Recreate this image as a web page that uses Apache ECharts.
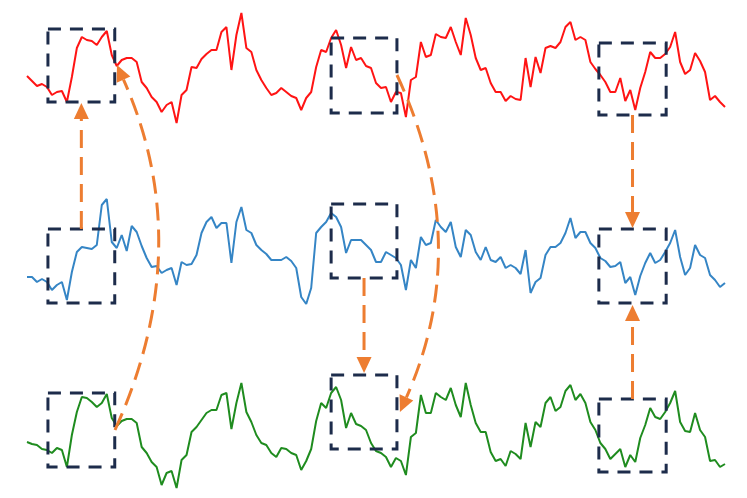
<!DOCTYPE html>
<html><head><meta charset="utf-8">
<script src="https://cdn.jsdelivr.net/npm/echarts@6/dist/echarts.min.js"></script>
<style>html,body{margin:0;padding:0;background:#fff}#c{width:747px;height:498px}</style>
</head><body><div id="c"></div>
<script>
const redValues = [54,49,44,46,43,35,38,39,28,53,82,93,90,89,85,93,99,75,64,70,72,72,68,48,42,33,28,18,25,28,7,35,40,63,62,71,76,80,80,98,103,60,95,117,82,78,60,50,42,35,37,42,38,34,32,20,32,38,63,80,78,92,100,85,62,83,70,72,64,62,47,42,43,28,38,37,13,50,53,88,73,75,96,93,92,103,88,75,112,95,72,60,62,47,38,38,29,34,31,30,72,43,73,57,82,84,82,88,103,108,90,93,90,68,61,55,48,38,38,52,29,40,20,42,58,78,72,72,76,83,98,68,56,60,77,69,58,30,34,28,23];
const blueValues = [38,38,33,36,33,25,30,33,15,43,63,68,67,66,70,110,116,73,67,80,64,89,83,69,57,48,49,42,45,47,30,53,50,51,60,82,93,98,87,92,92,52,93,108,85,82,70,65,61,55,55,55,58,54,47,18,11,27,82,88,93,102,98,88,62,75,75,75,70,65,53,53,63,60,57,50,25,55,47,78,70,72,95,88,83,93,68,58,85,80,63,55,68,55,53,58,47,50,47,41,65,22,33,37,60,68,68,72,82,97,77,83,83,72,67,57,54,48,49,53,32,38,20,39,52,62,52,55,63,72,85,58,40,47,70,60,57,40,35,28,32];
const greenValues = [53,51,50,46,45,42,47,45,28,60,83,98,97,93,88,92,101,77,69,74,76,76,72,48,42,33,28,10,22,24,7,35,40,63,68,75,82,85,85,100,102,66,92,112,83,73,60,52,50,42,38,47,46,42,40,25,34,46,74,92,87,102,108,95,67,82,71,69,65,52,44,42,38,28,37,34,20,58,62,100,82,82,102,98,95,107,90,78,112,90,72,63,63,43,34,36,29,44,41,36,72,48,73,68,92,98,84,88,104,110,95,101,92,73,65,52,46,36,41,46,28,40,33,57,70,87,78,76,83,92,104,73,64,63,82,65,58,34,35,28,31];

// vertical placement of the three stacked panels (axis units)
const offsets = { red: 368, blue: 183, green: 3 };
// highlighted time windows (index ranges) and their value ranges per series
const windows = [[4.2, 17.6], [61.0, 74.2], [114.7, 128.2]];
const boxRanges = {
  red:   [[28, 101], [17, 92], [15, 87]],
  blue:  [[12, 86], [37, 111], [12, 86]],
  green: [[28, 102], [46, 120], [23, 96]]
};
// arrows in axis units: from, to, optional control point
const arrows = [
  { from: [10.9, 269], to: [10.9, 395] },
  { from: [17.65, 68], to: [18.05, 433], ctrl: [34.3, 251] },
  { from: [74.2, 423], to: [74.8, 86], ctrl: [89.85, 255] },
  { from: [67.6, 220], to: [67.6, 125] },
  { from: [121.45, 383], to: [121.45, 270] },
  { from: [121.45, 99], to: [121.45, 193] }
];

const colors = { red: '#ff1414', blue: '#3585c5', green: '#1f8c1f', box: '#1d2c4b', arrow: '#ed7d31' };

function lineData(vals, off) { return vals.map((v, i) => [i, v + off]); }

const boxData = [];
['red', 'blue', 'green'].forEach(k => {
  windows.forEach((w, j) => {
    const r = boxRanges[k][j];
    boxData.push([w[0], w[1], r[0] + offsets[k], r[1] + offsets[k]]);
  });
});

const arrowData = arrows.map(a => {
  const c = a.ctrl || [(a.from[0] + a.to[0]) / 2, (a.from[1] + a.to[1]) / 2];
  return [a.from[0], a.from[1], a.to[0], a.to[1], c[0], c[1], a.ctrl ? 1 : 0];
});

const chart = echarts.init(document.getElementById('c'), null, { renderer: 'canvas' });
chart.setOption({
  animation: false,
  grid: { left: 27, right: 22, top: 0, bottom: 0 },
  xAxis: { type: 'value', min: 0, max: 140, show: false },
  yAxis: { type: 'value', min: 0, max: 498, show: false },
  series: [
    { type: 'line', data: lineData(redValues, offsets.red), showSymbol: false, lineStyle: { color: colors.red, width: 2 }, z: 2 },
    { type: 'line', data: lineData(blueValues, offsets.blue), showSymbol: false, lineStyle: { color: colors.blue, width: 2 }, z: 2 },
    { type: 'line', data: lineData(greenValues, offsets.green), showSymbol: false, lineStyle: { color: colors.green, width: 2 }, z: 2 },
    {
      type: 'custom', z: 3, data: boxData,
      encode: { x: [0, 1], y: [2, 3] },
      renderItem: function (params, api) {
        const p1 = api.coord([api.value(0), api.value(3)]);
        const p2 = api.coord([api.value(1), api.value(2)]);
        return {
          type: 'rect',
          shape: { x: p1[0], y: p1[1], width: p2[0] - p1[0], height: p2[1] - p1[1] },
          style: { fill: 'none', stroke: colors.box, lineWidth: 3, lineDash: [13, 9] }
        };
      }
    },
    {
      type: 'custom', z: 4, data: arrowData,
      encode: { x: [0, 2], y: [1, 3] },
      renderItem: function (params, api) {
        const P1 = api.coord([api.value(0), api.value(1)]);
        const P2 = api.coord([api.value(2), api.value(3)]);
        const C = api.coord([api.value(4), api.value(5)]);
        const curved = api.value(6) === 1;
        let dx = P2[0] - C[0], dy = P2[1] - C[1];
        const len = Math.sqrt(dx * dx + dy * dy) || 1;
        dx /= len; dy /= len;
        const L = 16, W = 7.5;
        const base = [P2[0] - dx * L, P2[1] - dy * L];
        const nx = -dy, ny = dx;
        const lineEl = curved ? {
          type: 'bezierCurve',
          shape: { x1: P1[0], y1: P1[1], x2: base[0], y2: base[1], cpx1: C[0], cpy1: C[1] },
          style: { fill: 'none', stroke: colors.arrow, lineWidth: 3, lineDash: [18, 9] }
        } : {
          type: 'line',
          shape: { x1: P1[0], y1: P1[1], x2: base[0], y2: base[1] },
          style: { stroke: colors.arrow, lineWidth: 3, lineDash: [18, 9] }
        };
        return {
          type: 'group',
          children: [
            lineEl,
            {
              type: 'polygon',
              shape: { points: [P2, [base[0] + nx * W, base[1] + ny * W], [base[0] - nx * W, base[1] - ny * W]] },
              style: { fill: colors.arrow }
            }
          ]
        };
      }
    }
  ]
});
</script>
</body></html>
